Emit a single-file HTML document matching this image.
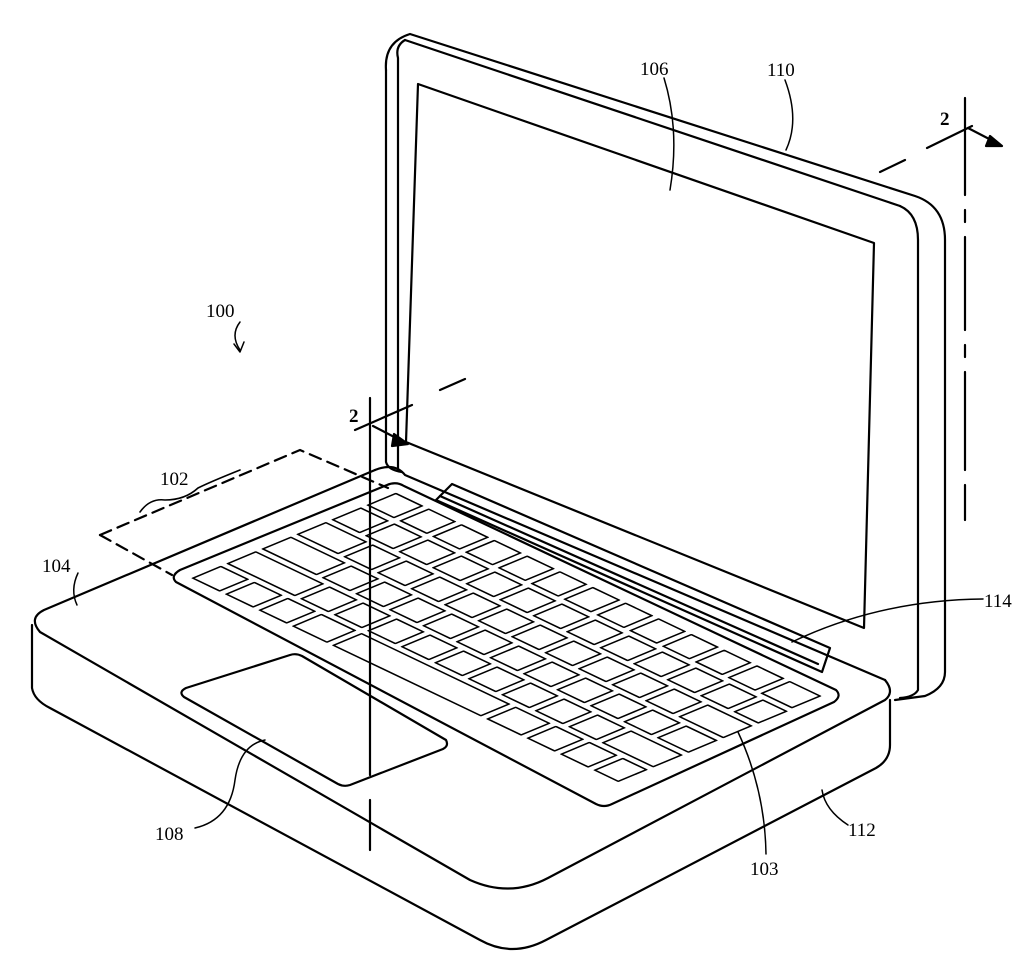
<!DOCTYPE html>
<html><head><style>
html,body{margin:0;padding:0;background:#fff;}
svg{display:block}
text{font-family:"Liberation Serif",serif;font-size:19px;fill:#000;stroke:none}
</style></head><body>
<svg width="1024" height="962" viewBox="0 0 1024 962" xmlns="http://www.w3.org/2000/svg" fill="none" stroke="#000" stroke-width="2.2" stroke-linejoin="round" stroke-linecap="round">
<path d="M386,70 Q384,42 410,34 L915,196 Q945,206 945,240 L945,672 Q945,688 925,696 L895,700"/>
<path d="M386,70 L386,462 Q388,470 402,472"/>
<path d="M405,40 Q395,46 398,58 L398,470"/>
<path d="M900,206 Q918,214 918,240 L918,690 Q914,697 900,698"/>
<path d="M405,40 L900,206"/>
<path d="M418,84 L874,243 L864,628 L406,442 Z"/>
<path d="M436,500 L452,484 L830,648 L822,672 Z"/>
<path d="M440,496 L818,664"/>
<path d="M375,470 L44,610 Q28,618 40,632 L470,880 Q510,898 548,878 L885,700 Q895,692 885,680"/>
<path d="M375,470 Q395,462 405,475 L885,680"/>
<path d="M32,625 L32,688 Q34,700 50,708 L480,940 Q512,958 546,940 L876,768 Q890,760 890,745 L890,700"/>
<path d="M180,570 L387,485 Q396,481 404,486 L836,690 Q842,696 834,702 L612,804 Q604,808 596,804 L176,582 Q170,576 180,570 Z"/>
<g transform="matrix(33.5,16,-35,14.6,186,578)" stroke-width="0.055">
<path d="M0.1,-0.9h0.8v0.8h-0.8z M1.1,-0.9h0.8v0.8h-0.8z M2.1,-0.9h0.8v0.8h-0.8z M3.1,-0.9h1.0v0.8h-1.0z M4.3,-0.9h4.4v0.8h-4.4z M8.9,-0.9h1.0v0.8h-1.0z M10.1,-0.9h0.8v0.8h-0.8z M11.1,-0.9h0.8v0.8h-0.8z M12.1,-0.9h0.7v0.8h-0.7z"/>
<path d="M0.1,-1.9h2.0v0.8h-2.0z M2.3,-1.9h0.8v0.8h-0.8z M3.3,-1.9h0.8v0.8h-0.8z M4.3,-1.9h0.8v0.8h-0.8z M5.3,-1.9h0.8v0.8h-0.8z M6.3,-1.9h0.8v0.8h-0.8z M7.3,-1.9h0.8v0.8h-0.8z M8.3,-1.9h0.8v0.8h-0.8z M9.3,-1.9h0.8v0.8h-0.8z M10.3,-1.9h0.8v0.8h-0.8z M11.3,-1.9h1.5v0.8h-1.5z"/>
<path d="M0.1,-2.9h1.6v0.8h-1.6z M1.9,-2.9h0.8v0.8h-0.8z M2.9,-2.9h0.8v0.8h-0.8z M3.9,-2.9h0.8v0.8h-0.8z M4.9,-2.9h0.8v0.8h-0.8z M5.9,-2.9h0.8v0.8h-0.8z M6.9,-2.9h0.8v0.8h-0.8z M7.9,-2.9h0.8v0.8h-0.8z M8.9,-2.9h0.8v0.8h-0.8z M9.9,-2.9h0.8v0.8h-0.8z M10.9,-2.9h0.8v0.8h-0.8z M11.9,-2.9h0.9v0.8h-0.9z"/>
<path d="M0.1,-3.9h1.2v0.8h-1.2z M1.5,-3.9h0.8v0.8h-0.8z M2.5,-3.9h0.8v0.8h-0.8z M3.5,-3.9h0.8v0.8h-0.8z M4.5,-3.9h0.8v0.8h-0.8z M5.5,-3.9h0.8v0.8h-0.8z M6.5,-3.9h0.8v0.8h-0.8z M7.5,-3.9h0.8v0.8h-0.8z M8.5,-3.9h0.8v0.8h-0.8z M9.5,-3.9h0.8v0.8h-0.8z M10.5,-3.9h0.8v0.8h-0.8z M11.5,-3.9h1.3v0.8h-1.3z"/>
<path d="M0.1,-4.9h0.8v0.8h-0.8z M1.1,-4.9h0.8v0.8h-0.8z M2.1,-4.9h0.8v0.8h-0.8z M3.1,-4.9h0.8v0.8h-0.8z M4.1,-4.9h0.8v0.8h-0.8z M5.1,-4.9h0.8v0.8h-0.8z M6.1,-4.9h0.8v0.8h-0.8z M7.1,-4.9h0.8v0.8h-0.8z M8.1,-4.9h0.8v0.8h-0.8z M9.1,-4.9h0.8v0.8h-0.8z M10.1,-4.9h0.8v0.8h-0.8z M11.1,-4.9h0.8v0.8h-0.8z M12.1,-4.9h0.7v0.8h-0.7z"/>
<path d="M0.1,-5.9h0.78v0.8h-0.78z M1.08,-5.9h0.78v0.8h-0.78z M2.06,-5.9h0.78v0.8h-0.78z M3.04,-5.9h0.78v0.8h-0.78z M4.02,-5.9h0.78v0.8h-0.78z M5.0,-5.9h0.78v0.8h-0.78z M5.98,-5.9h0.78v0.8h-0.78z M6.96,-5.9h0.78v0.8h-0.78z M7.94,-5.9h0.78v0.8h-0.78z M8.92,-5.9h0.78v0.8h-0.78z M9.9,-5.9h0.78v0.8h-0.78z M10.88,-5.9h0.78v0.8h-0.78z M11.86,-5.9h0.9v0.8h-0.9z"/>
</g>
<path d="M186,688 L290,655 Q296,653 302,656 L446,740 Q449,746 443,749 L350,785 Q344,787 338,784 L184,697 Q178,692 186,688 Z"/>
<path d="M370,398 L370,775"/>
<path d="M370,800 L370,850"/>
<path d="M355,430 L412,405"/>
<path d="M440,390 L465,379"/>
<path d="M373,426 L400,440"/>
<path d="M394,434 L408,444 L392,446 Z" fill="#000"/>
<text x="349" y="422" font-weight="bold">2</text>
<path d="M965,98 L965,195 M965,210 L965,222 M965,237 L965,330 M965,345 L965,357 M965,372 L965,470 M965,485 L965,520"/>
<path d="M927,148 L972,126"/>
<path d="M880,172 L905,160"/>
<path d="M968,128 L995,142"/>
<path d="M990,136 L1002,146 L986,146 Z" fill="#000"/>
<text x="940" y="125" font-weight="bold">2</text>
<path d="M100,535 L300,450 L388,488" stroke-dasharray="12,7"/>
<path d="M100,535 L172,575" stroke-dasharray="12,7"/>
<path d="M140,512 Q150,498 165,500 Q185,500 198,488 Q210,482 240,470" stroke-width="1.6"/>
<g stroke-width="1.5">
<path d="M240,322 Q230,335 240,350"/>
<path d="M234,344 L240,352 L244,342"/>
<path d="M664,78 Q680,130 670,190"/>
<path d="M785,80 Q800,120 786,150"/>
<path d="M78,573 Q70,590 77,605"/>
<path d="M983,599 Q880,600 792,642"/>
<path d="M195,828 Q230,820 235,780 Q240,745 265,740"/>
<path d="M766,854 Q765,790 738,732"/>
<path d="M848,825 Q825,810 822,790"/>
</g>
<text x="206" y="317">100</text>
<text x="640" y="75">106</text>
<text x="767" y="76">110</text>
<text x="160" y="485">102</text>
<text x="42" y="572">104</text>
<text x="984" y="607">114</text>
<text x="155" y="840">108</text>
<text x="750" y="875">103</text>
<text x="848" y="836">112</text>
</svg>
</body></html>
